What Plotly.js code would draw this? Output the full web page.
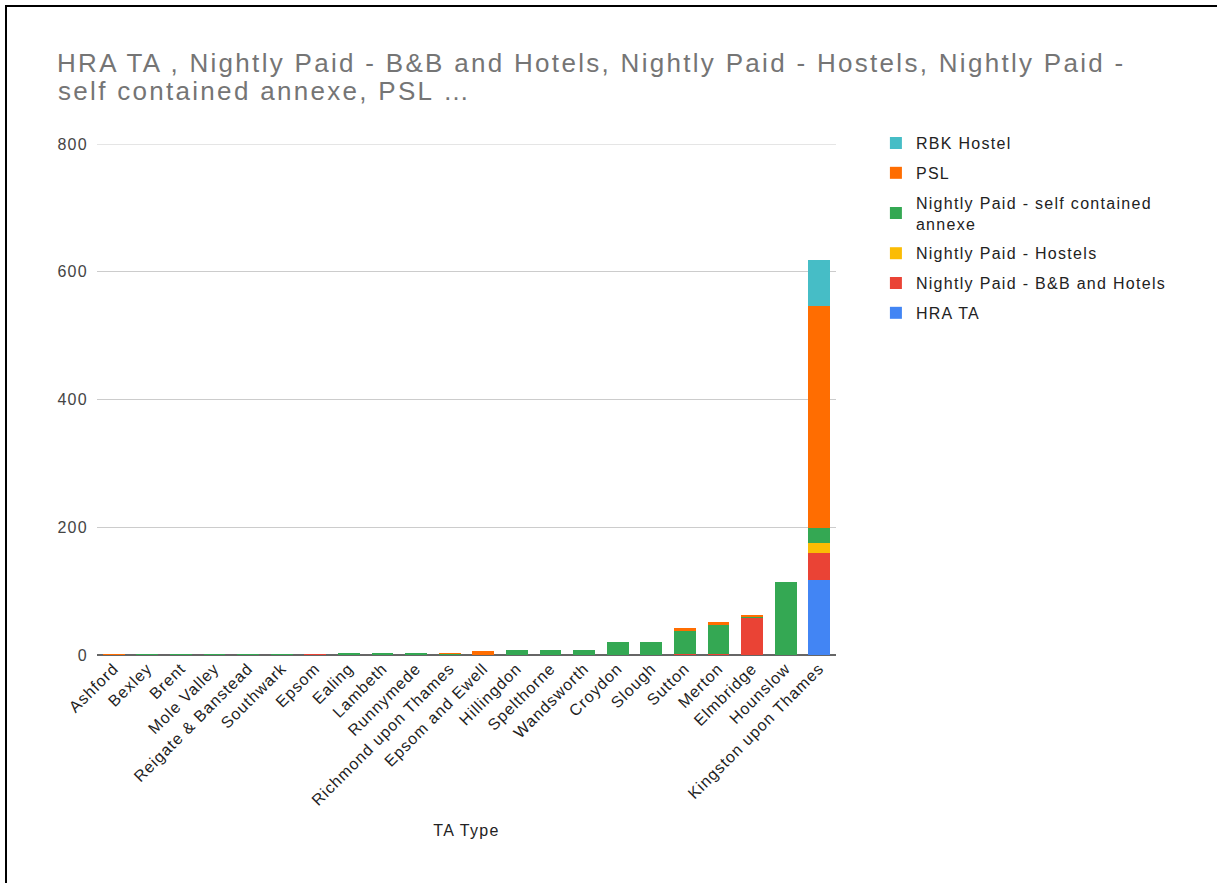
<!DOCTYPE html>
<html>
<head>
<meta charset="utf-8">
<script src="https://cdn.plot.ly/plotly-3.0.1.min.js"></script>
<style>
html,body{margin:0;padding:0;background:#fff;overflow:hidden;}
#frame{position:absolute;left:5px;top:5px;width:1300px;height:1000px;border-top:2px solid #000;border-left:2px solid #000;}
#chart{position:absolute;left:0;top:0;width:1217px;height:883px;}
.gtitle, .annotation-text{letter-spacing:2.3px;}
.legendtext{letter-spacing:1.3px;}
g.xtick text{letter-spacing:1px;}
g.ytick text{letter-spacing:1.3px;}
.xtitle{letter-spacing:1.3px;}
</style>
</head>
<body>
<div id="frame"></div>
<div id="chart"></div>
<script>
const categories = ["Ashford","Bexley","Brent","Mole Valley","Reigate & Banstead","Southwark","Epsom","Ealing","Lambeth","Runnymede","Richmond upon Thames","Epsom and Ewell","Hillingdon","Spelthorne","Wandsworth","Croydon","Slough","Sutton","Merton","Elmbridge","Hounslow","Kingston upon Thames"];
const hraTA        = [0,0,0,0,0,0,0,0,0,0,0,0,0,0,0,0,0,0,0,0,0,117];
const bbHotels     = [0,0,0,0,0,0,1,0,0,0,0,0,0,0,0,0,0,2,2,59,0,43];
const hostels      = [0,0,0,0,0,0,0,0,0,0,0,0,0,0,0,0,0,0,0,0,0,15];
const selfAnnexe   = [0,1,1,1,1,1,0,3,3,3,2,0,8,8,8,21,21,36,45,2,114,24];
const psl          = [1,0,0,0,0,0,0,0,0,0,1,6,0,0,0,0,0,4,5,1,0,348];
const rbkHostel    = [0,0,0,0,0,0,0,0,0,0,0,0,0,0,0,0,0,0,0,0,0,72];
const yTicks = [0,200,400,600,800];
const titleLine1 = "HRA TA , Nightly Paid - B&B and Hotels, Nightly Paid - Hostels, Nightly Paid -";
const titleLine2 = "self contained annexe, PSL …";

const series = [
  {name:"HRA TA", y:hraTA, color:"#4285F4"},
  {name:"Nightly Paid - B&B and Hotels", y:bbHotels, color:"#EA4335"},
  {name:"Nightly Paid - Hostels", y:hostels, color:"#FBBC04"},
  {name:"Nightly Paid - self contained<br>annexe", y:selfAnnexe, color:"#34A853"},
  {name:"PSL", y:psl, color:"#FF6D01"},
  {name:"RBK Hostel", y:rbkHostel, color:"#46BDC6"}
];

const traces = series.map((s,i) => ({
  type:"bar", name:s.name, x:categories, y:s.y, legendgroup:"g"+i,
  legendrank: (series.length - i) * 100,
  marker:{color:s.color, line:{width:0}}
}));

const fam = "Liberation Sans, Arial, sans-serif";
const layout = {
  width:1217, height:883,
  barmode:"stack", bargap:0.35,
  paper_bgcolor:"rgba(0,0,0,0)", plot_bgcolor:"rgba(0,0,0,0)",
  font:{family:fam, color:"#222", size:16},
  margin:{l:97, r:381, t:144, b:228},
  title:{text:titleLine1,
    font:{size:26, color:"#757575", family:fam},
    x:57/1217, xref:"container", xanchor:"left", y:1-54/883, yref:"container", yanchor:"top"},
  annotations:[{text:titleLine2, xref:"paper", yref:"paper", x:(56-97)/739, y:(655-74)/511,
    xanchor:"left", yanchor:"top", showarrow:false, font:{size:26, color:"#757575", family:fam}}],
  shapes:[{type:"line", xref:"paper", yref:"y", x0:0, x1:1, y0:800, y1:800, line:{color:"#cccccc", width:1}, layer:"below"}],
  xaxis:{type:"category", tickangle:-45, tickfont:{size:16, color:"#222"},
    title:{text:"TA Type", font:{size:16, color:"#222"}, standoff:16},
    showgrid:false, showline:false, ticks:""},
  yaxis:{range:[0,800], tickvals:yTicks, ticktext:yTicks.map(String),
    tickfont:{size:16, color:"#444"}, gridcolor:"#cccccc", gridwidth:1, ticklabelstandoff:8,
    zeroline:true, zerolinecolor:"#666666", zerolinewidth:1.5, ticks:""},
  legend:{x:1.054, xanchor:"left", y:1.035, yanchor:"top", traceorder:"grouped",
    font:{size:16, color:"#222"}, itemwidth:30, tracegroupgap:6, bgcolor:"rgba(0,0,0,0)"},
  showlegend:true
};

Plotly.newPlot("chart", traces, layout, {displayModeBar:false, responsive:false});
</script>
</body>
</html>
